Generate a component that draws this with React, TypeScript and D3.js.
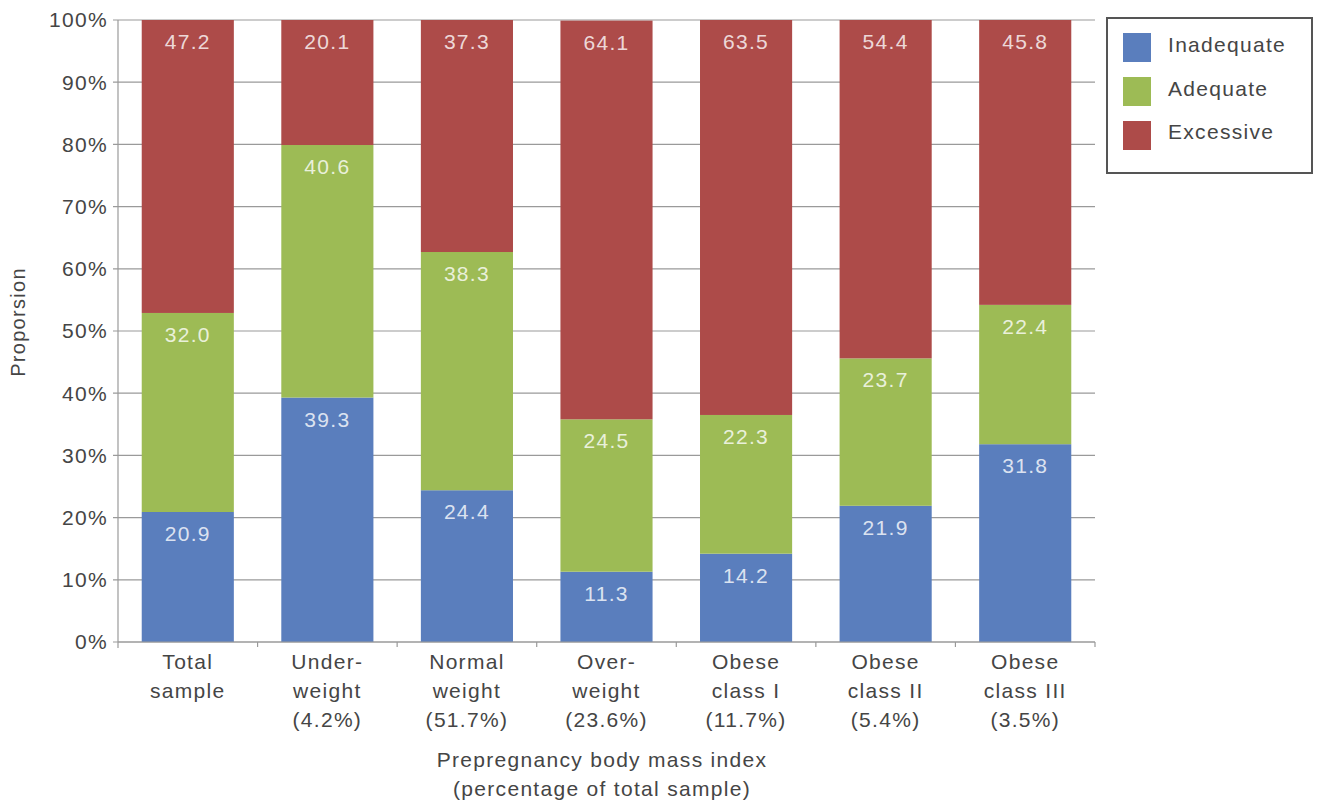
import React from "react";
import * as d3 from "d3";

const categories: string[][] = [
  ["Total", "sample"],
  ["Under-", "weight", "(4.2%)"],
  ["Normal", "weight", "(51.7%)"],
  ["Over-", "weight", "(23.6%)"],
  ["Obese", "class I", "(11.7%)"],
  ["Obese", "class II", "(5.4%)"],
  ["Obese", "class III", "(3.5%)"],
];
const inadequate = [20.9, 39.3, 24.4, 11.3, 14.2, 21.9, 31.8];
const adequate = [32.0, 40.6, 38.3, 24.5, 22.3, 23.7, 22.4];
const excessive = [47.2, 20.1, 37.3, 64.1, 63.5, 54.4, 45.8];
const seriesNames = ["Inadequate", "Adequate", "Excessive"];
const seriesColors = ["#5a7ebd", "#9dbb55", "#ad4b49"];
const yTicks = [0, 10, 20, 30, 40, 50, 60, 70, 80, 90, 100];

const W = 1319;
const H = 808;
const M = { left: 118, right: 1095, top: 20, bottom: 642 };
const FONT = "'Liberation Sans', Arial, sans-serif";
const TEXT = "#454545";
const FS = 21;
const LS = 1.3;

export default function App() {
  const idx = categories.map((_, i) => i);
  const x = d3
    .scaleBand<number>()
    .domain(idx)
    .range([M.left, M.right])
    .paddingInner(0.34)
    .paddingOuter(0.17);
  const y = d3.scaleLinear().domain([0, 100]).range([M.bottom, M.top]);
  const rows = idx.map((i) => ({
    i,
    Inadequate: inadequate[i],
    Adequate: adequate[i],
    Excessive: excessive[i],
  }));
  const stack = d3.stack<any>().keys(seriesNames)(rows);
  const step = x.step();
  const bandStart = (i: number) => (x(i) as number) - (step * 0.34) / 2;

  return (
    <svg
      width={W}
      height={H}
      style={{ position: "absolute", left: 0, top: 0, background: "#fff" }}
      fontFamily={FONT}
      letterSpacing={LS}
    >
      {/* gridlines */}
      {yTicks.map((t) => (
        <g key={t}>
          <line x1={M.left - 5} x2={M.right} y1={y(t)} y2={y(t)} stroke="#9a9a9a" strokeWidth={1.2} />
          <text x={108} y={y(t)} dy="0.35em" textAnchor="end" fontSize={FS} fill={TEXT}>
            {t}%
          </text>
        </g>
      ))}
      {/* bars */}
      {stack.map((s, si) => (
        <g key={s.key}>
          {s.map((d, j) => {
            const top = y(Math.min(d[1], 100));
            const bot = y(d[0]);
            return (
              <g key={j}>
                <rect x={x(j)} y={top} width={x.bandwidth()} height={bot - top} fill={seriesColors[si]} />
                <text
                  x={(x(j) as number) + x.bandwidth() / 2}
                  y={top + 29}
                  textAnchor="middle"
                  fontSize={FS}
                  fill="#fff"
                  fillOpacity={0.8}
                >
                  {(d[1] - d[0]).toFixed(1)}
                </text>
              </g>
            );
          })}
        </g>
      ))}
      {/* axes */}
      <line x1={M.left} x2={M.left} y1={M.top} y2={M.bottom + 6} stroke="#9a9a9a" strokeWidth={1.2} />
      <line x1={M.left} x2={M.right} y1={M.bottom} y2={M.bottom} stroke="#9a9a9a" strokeWidth={1.2} />
      {idx.map((i) => (
        <line
          key={i}
          x1={bandStart(i) + step}
          x2={bandStart(i) + step}
          y1={M.bottom}
          y2={M.bottom + 5}
          stroke="#9a9a9a"
          strokeWidth={1.2}
        />
      ))}
      {/* category labels */}
      {categories.map((lines, i) => (
        <text key={i} textAnchor="middle" fontSize={FS} fill={TEXT}>
          {lines.map((l, k) => (
            <tspan key={k} x={(x(i) as number) + x.bandwidth() / 2} y={669 + k * 29}>
              {l}
            </tspan>
          ))}
        </text>
      ))}
      {/* axis titles */}
      <text textAnchor="middle" fontSize={FS} fill={TEXT}>
        <tspan x={602} y={767}>Prepregnancy body mass index</tspan>
        <tspan x={602} y={796}>(percentage of total sample)</tspan>
      </text>
      <text
        transform="translate(25,322) rotate(-90)"
        textAnchor="middle"
        fontSize={20}
        fill={TEXT}
      >
        Proporsion
      </text>
      {/* legend */}
      <rect x={1107} y={18} width={205} height={155} fill="#fff" stroke="#555" strokeWidth={2} />
      {seriesNames.map((n, k) => (
        <g key={n}>
          <rect x={1123} y={33 + k * 44} width={28} height={29} fill={seriesColors[k]} />
          <text x={1168} y={45 + k * 43.5} dy="0.35em" fontSize={FS} fill={TEXT}>
            {n}
          </text>
        </g>
      ))}
    </svg>
  );
}
